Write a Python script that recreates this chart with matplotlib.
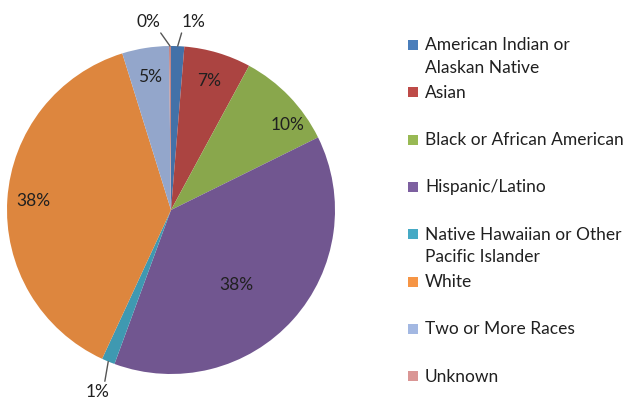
import numpy as np
import matplotlib
matplotlib.use("Agg")
import matplotlib.pyplot as plt
from matplotlib.patches import Rectangle
from matplotlib.colors import to_rgb

plt.rcParams['font.family'] = ['Lato', 'DejaVu Sans']

categories = ['American Indian or\nAlaskan Native', 'Asian', 'Black or African American',
              'Hispanic/Latino', 'Native Hawaiian or Other\nPacific Islander', 'White',
              'Two or More Races', 'Unknown']
values = [1.3, 6.6, 9.8, 37.9, 1.3, 38.3, 4.6, 0.2]
colors = ['#4A7EBB', '#BE4B48', '#98B954', '#7D60A0', '#46AAC5', '#F69545', '#A3B8E2', '#DA9695']
# pie slices are drawn a bit darker than the legend keys (shading)
pie_colors = [tuple(c * 0.9 for c in to_rgb(col)) for col in colors]

# label placement (radius as fraction, angle shift in deg); None -> outside label
label_r = [None, 0.82, 0.88, 0.61, None, 0.84, 0.82, None]
label_shift = [0, 0, 8, 7, 0, 0, 0, 0]

W, H = 631, 401
fig = plt.figure(figsize=(W / 100, H / 100), dpi=100)
cx, cy, R = 171, 210, 164
ax = fig.add_axes([(cx - R) / W, (H - cy - R) / H, 2 * R / W, 2 * R / H])
ax.pie(values, colors=pie_colors, startangle=90, counterclock=False, radius=1,
       wedgeprops=dict(linewidth=0))
ax.set_xlim(-1, 1)
ax.set_ylim(-1, 1)
ax.set_aspect('equal')
ax.axis('off')

fs = 12.5
total = sum(values)
cum = np.cumsum([0] + values)
for i, v in enumerate(values):
    txt = '%d%%' % int(v / total * 100 + 0.5)
    mid = (cum[i] + cum[i + 1]) / 2 / total * 360
    if label_r[i] is not None:
        a = np.radians(mid + label_shift[i])
        ax.text(label_r[i] * np.sin(a), label_r[i] * np.cos(a), txt, ha='center',
                va='center', fontsize=fs, color='#202020')

# outside labels with leader lines
def edge(i):
    a = np.radians((cum[i] + cum[i + 1]) / 2 / total * 360)
    return (np.sin(a), np.cos(a))

lp = dict(arrowstyle='-', color='#555555', lw=1, shrinkA=0, shrinkB=0)
ax.annotate('%d%%' % int(values[0] / total * 100 + 0.5), xy=edge(0),
            xytext=(0.135, 1.145), ha='center', va='center', fontsize=fs,
            color='#202020', annotation_clip=False,
            arrowprops=dict(relpos=(0.05, 0), **lp))
ax.annotate('%d%%' % int(values[7] / total * 100 + 0.5), xy=edge(7),
            xytext=(-0.14, 1.145), ha='center', va='center', fontsize=fs,
            color='#202020', annotation_clip=False,
            arrowprops=dict(relpos=(0.95, 0), **lp))
ax.annotate('%d%%' % int(values[4] / total * 100 + 0.5), xy=edge(4),
            xytext=(-0.45, -1.11), ha='center', va='center', fontsize=fs,
            color='#202020', annotation_clip=False,
            arrowprops=dict(relpos=(0.8, 1), **lp))

# legend drawn by hand
y0, step = 45, 47.3
for i, name in enumerate(categories):
    y = y0 + i * step
    fig.patches.append(Rectangle((408 / W, 1 - (y + 5) / H), 10 / W, 10 / H,
                                 transform=fig.transFigure, color=colors[i], lw=0))
    fig.text(425 / W, 1 - (y - 7.5) / H, name, ha='left', va='top', fontsize=fs,
             color='#202020', linespacing=1.5)

fig.savefig('out.png', dpi=100)
